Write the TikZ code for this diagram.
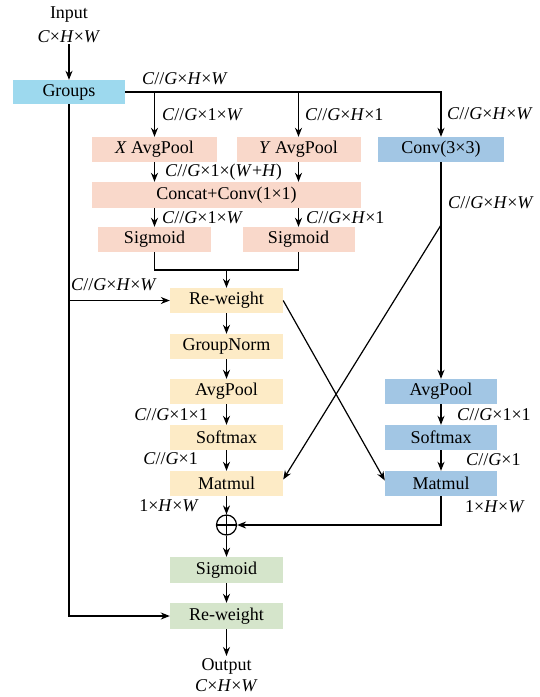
\documentclass[tikz,border=0pt]{standalone}
\usepackage{fontspec}
\setmainfont{Liberation Serif}
\usetikzlibrary{arrows.meta,calc}
\definecolor{cgroups}{HTML}{9DD9EE}
\definecolor{cpink}{HTML}{F9D8CA}
\definecolor{cblue}{HTML}{A2C6E4}
\definecolor{cyel}{HTML}{FDEBC6}
\definecolor{cgreen}{HTML}{D5E5CB}
\tikzset{
  box/.style={rectangle,inner sep=0pt,minimum height=25pt,font=\fontsize{18}{20}\selectfont},
  lbl/.style={inner sep=0pt,font=\fontsize{18}{20}\selectfont},
  ln/.style={line width=1.2pt},
  arr/.style={ln,-{Stealth[length=9pt,width=7pt]}},
}
\newcommand{\cg}{\textit{C}//\textit{G}}
\begin{document}
\begin{tikzpicture}[x=1pt,y=-1pt]
\useasboundingbox (0,0) rectangle (540,697);
% text in / out
\node[lbl] (inp) at (69,15) {Input};
\node[lbl] (inpd) at (69,37) {\textit{C}×\textit{H}×\textit{W}};
\node[lbl] (outp) at (226.5,666) {Output};
\node[lbl] (outd) at (226.5,686) {\textit{C}×\textit{H}×\textit{W}};
% boxes
\node[box,fill=cgroups,minimum width=112pt,minimum height=24pt] (groups) at (69,92) {Groups};
\node[box,fill=cpink,minimum width=125pt] (xavg) at (154.5,149.5) {\textit{X} AvgPool};
\node[box,fill=cpink,minimum width=124pt] (yavg) at (298.5,149.5) {\textit{Y} AvgPool};
\node[box,fill=cblue,minimum width=126pt] (conv) at (441,149.5) {Conv(3×3)};
\node[box,fill=cpink,minimum width=269pt,minimum height=26pt] (concat) at (226.5,195) {Concat+Conv(1×1)};
\node[box,fill=cpink,minimum width=113pt] (sigl) at (154.5,239.5) {Sigmoid};
\node[box,fill=cpink,minimum width=112pt] (sigr) at (298.5,239.5) {Sigmoid};
\node[box,fill=cyel,minimum width=113pt] (rw1) at (226.5,300.5) {Re-weight};
\node[box,fill=cyel,minimum width=113pt] (gn) at (226.5,346.5) {GroupNorm};
\node[box,fill=cyel,minimum width=113pt] (avgy) at (226.5,391.5) {AvgPool};
\node[box,fill=cyel,minimum width=113pt] (smy) at (226.5,437.5) {Softmax};
\node[box,fill=cyel,minimum width=113pt] (mmy) at (226.5,483.5) {Matmul};
\node[box,fill=cblue,minimum width=112pt] (avgb) at (441,391.5) {AvgPool};
\node[box,fill=cblue,minimum width=112pt] (smb) at (441,437.5) {Softmax};
\node[box,fill=cblue,minimum width=112pt] (mmb) at (441,483.5) {Matmul};
\node[draw,ln,circle,minimum size=20pt,inner sep=0pt,
  path picture={\draw[ln] (path picture bounding box.north) -- (path picture bounding box.south)
  (path picture bounding box.west) -- (path picture bounding box.east);}] (op) at (226.5,525) {};
\node[box,fill=cgreen,minimum width=113pt,minimum height=26pt] (sigg) at (226.5,570) {Sigmoid};
\node[box,fill=cgreen,minimum width=113pt,minimum height=26pt] (rwg) at (226.5,616) {Re-weight};
% labels
\node[lbl,anchor=west] (l1) at (142,79) {\cg×\textit{H}×\textit{W}};
\node[lbl,anchor=west] (l2) at (162,115) {\cg×1×\textit{W}};
\node[lbl,anchor=west] (l3) at (305,115) {\cg×\textit{H}×1};
\node[lbl,anchor=west] (l4) at (447,114) {\cg×\textit{H}×\textit{W}};
\node[lbl,anchor=west] (l5) at (165,172) {\cg×1×(\textit{W}+\textit{H})};
\node[lbl,anchor=west] (l6) at (162,218) {\cg×1×\textit{W}};
\node[lbl,anchor=west] (l7) at (306,218) {\cg×\textit{H}×1};
\node[lbl,anchor=west] (l8) at (448,203) {\cg×\textit{H}×\textit{W}};
\node[lbl,anchor=west] (l9) at (71,285) {\cg×\textit{H}×\textit{W}};
\node[lbl,anchor=east] (l10) at (208,415) {\cg×1×1};
\node[lbl,anchor=east] (l11) at (198,459) {\cg×1};
\node[lbl,anchor=east] (l12) at (199,506) {1×\textit{H}×\textit{W}};
\node[lbl,anchor=west] (l13) at (457,415) {\cg×1×1};
\node[lbl,anchor=west] (l14) at (466,460) {\cg×1};
\node[lbl,anchor=west] (l15) at (465,507) {1×\textit{H}×\textit{W}};
% coordinates
\coordinate (jn) at (226.5,270);
\coordinate (cp) at (441,225);
% connectors
\draw[arr] (inpd.south) ++(0,1) -- (groups.north);
\draw[arr] (groups.east) -| (conv.north);
\draw[arr] (xavg.north |- groups.east) -- (xavg.north);
\draw[arr] (yavg.north |- groups.east) -- (yavg.north);
\draw[arr] (xavg.south) -- (xavg.south |- concat.north);
\draw[arr] (yavg.south) -- (yavg.south |- concat.north);
\draw[arr] (sigl.north |- concat.south) -- (sigl.north);
\draw[arr] (sigr.north |- concat.south) -- (sigr.north);
\draw[ln] (sigl.south) |- (jn) -| (sigr.south);
\draw[arr] (jn) -- (rw1.north);
\draw[arr] (groups.south) |- (rwg.west);
\draw[arr] (groups.south |- rw1.west) -- (rw1.west);
\draw[arr] (rw1) -- (gn);
\draw[arr] (gn) -- (avgy);
\draw[arr] (avgy) -- (smy);
\draw[arr] (smy) -- (mmy);
\draw[arr] (mmy) -- (op);
\draw[arr] (op) -- (sigg);
\draw[arr] (sigg) -- (rwg);
\draw[arr] (rwg.south) -- ($(outp.north)+(0,-2)$);
\draw[arr] (conv.south) -- (avgb.north);
\draw[arr] (avgb) -- (smb);
\draw[arr] (smb) -- (mmb);
\draw[arr] (mmb.south) |- (op.east);
\draw[arr] (cp) -- ($(mmy.east)+(0,-4)$);
\draw[arr] (rw1.east) -- ($(mmb.west)+(0,-3)$);
\end{tikzpicture}
\end{document}
